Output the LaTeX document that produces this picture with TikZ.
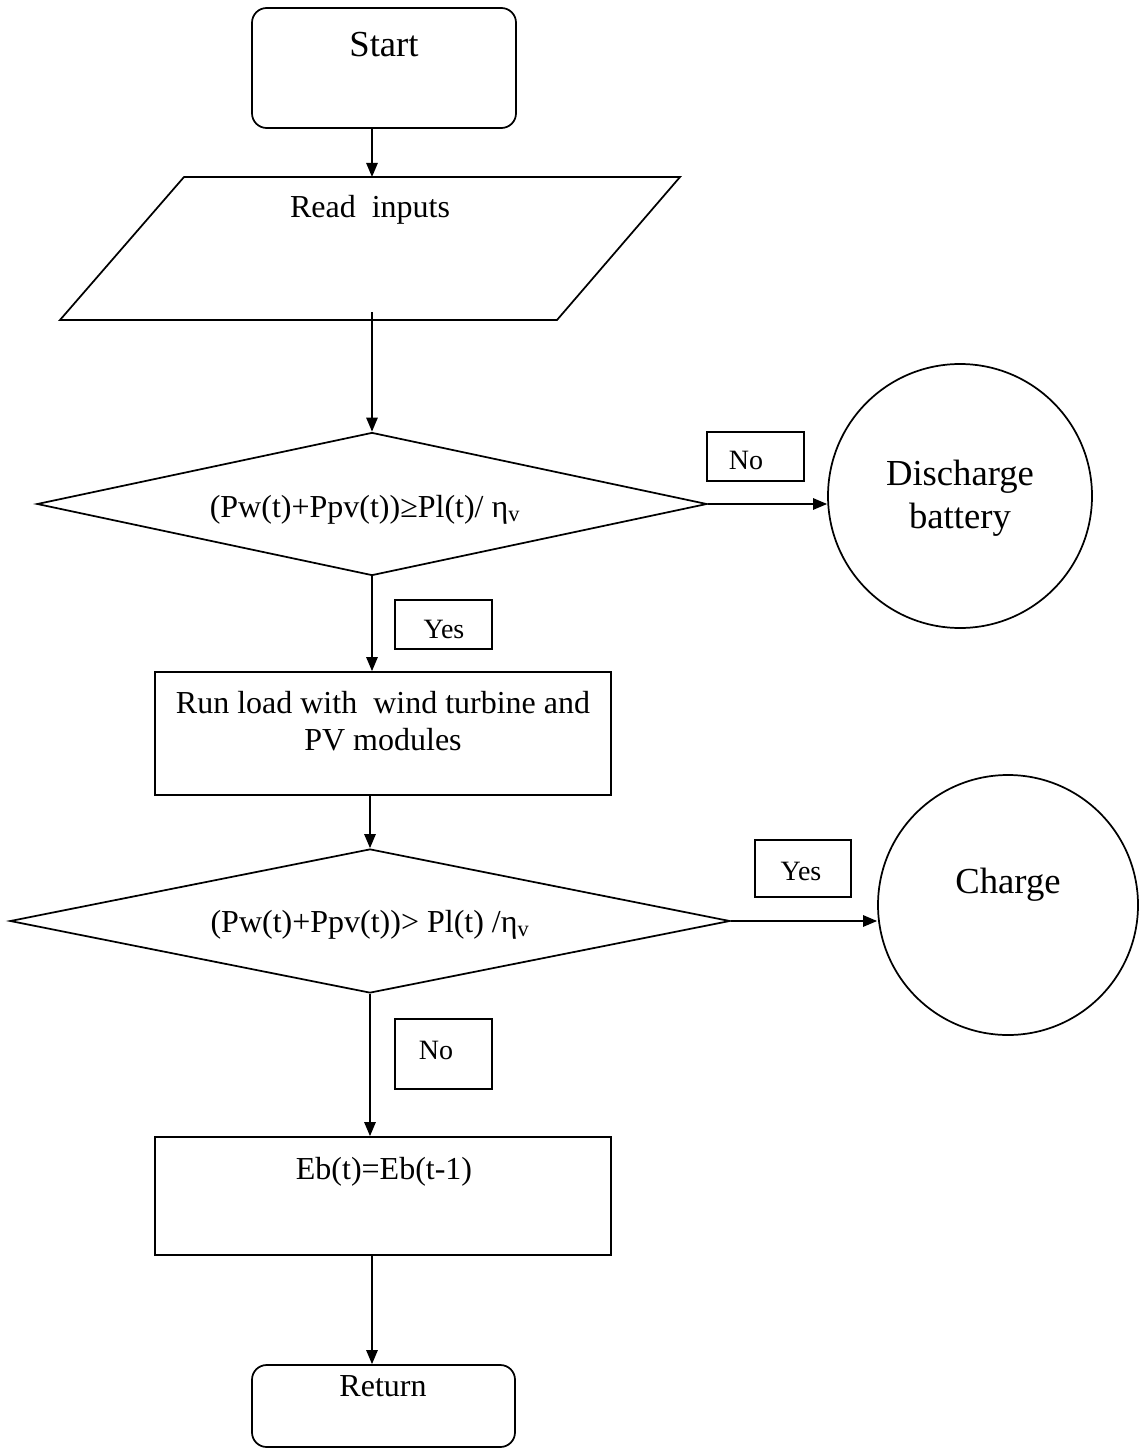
\documentclass[tikz,border=0pt]{standalone}
\usepackage{fontspec}
\setmainfont{Liberation Serif}
\usetikzlibrary{arrows.meta,shapes.geometric}
\begin{document}
\begin{tikzpicture}[x=0.75pt,y=-0.75pt,
  line width=1.3pt,
  conn/.style={-{Triangle[length=10.5pt,width=8.5pt]}},
  boxshape/.style={draw,rectangle,inner sep=0pt},
  roundshape/.style={draw,rectangle,rounded corners=11pt,inner sep=0pt},
  decshape/.style={draw,diamond,inner sep=0pt},
  termcircle/.style={draw,circle,inner sep=0pt},
  lblbox/.style={draw,rectangle,inner sep=0pt,line width=1pt,minimum width=72.75pt},
  txt/.style={anchor=base,inner sep=0pt,font=\fontsize{24}{28}\selectfont},
  bigtxt/.style={anchor=base,inner sep=0pt,font=\fontsize{27.5}{32}\selectfont},
  lbltxt/.style={anchor=base,inner sep=0pt,font=\fontsize{21}{25}\selectfont}]
\useasboundingbox (0,0) rectangle (1143,1448);

% shapes
\node[roundshape,minimum width=198pt,minimum height=90pt] (start) at (384,68) {};
\coordinate (pbl) at (60,320);
\coordinate (ptl) at (184,177);
\coordinate (ptr) at (680,177);
\coordinate (pbr) at (557,320);
\draw (pbl) -- (ptl) -- (ptr) -- (pbr) -- cycle;
\coordinate (ptop) at (372,177);
\coordinate (pbot) at (372,312);
\node[decshape,minimum width=502.5pt,minimum height=107.25pt] (d1) at (372,504) {};
\node[lblbox,minimum height=36.75pt] (no1) at (755.5,456.5) {};
\node[termcircle,minimum size=198pt] (c1) at (960,496) {};
\node[lblbox,minimum height=36.75pt] (yes1) at (443.5,624.5) {};
\node[boxshape,minimum width=342pt,minimum height=92.25pt] (r2) at (383,733.5) {};
\node[decshape,minimum width=540pt,minimum height=108pt] (d2) at (370,921) {};
\node[lblbox,minimum width=72pt,minimum height=42.75pt] (yes2) at (803,868.5) {};
\node[termcircle,minimum size=195pt] (c2) at (1008,905) {};
\node[lblbox,minimum height=52.5pt] (no2) at (443.5,1054) {};
\node[boxshape,minimum width=342pt,minimum height=88.5pt] (r3) at (383,1196) {};
\node[roundshape,minimum width=197.25pt,minimum height=61.5pt] (ret) at (383.5,1406) {};

% texts
\node[bigtxt] (tstart) at (384,57) {Start};
\node[txt] (tread) at (370,218) {Read\ \ inputs};
\node[txt] (td1) at (365,517) {(Pw(t)+Ppv(t))≥Pl(t)/ η\textsubscript{v}};
\node[lbltxt] (tno1) at (746,469) {No};
\node[bigtxt] (tdis) at (960,485) {Discharge};
\node[bigtxt] (tbat) at (960,528) {battery};
\node[lbltxt] (tyes1) at (444,638) {Yes};
\node[txt] (tr2a) at (383,713) {Run load with\ \ wind turbine and};
\node[txt] (tr2b) at (383,750) {PV modules};
\node[txt] (td2) at (370,932) {(Pw(t)+Ppv(t))> Pl(t) /η\textsubscript{v}};
\node[lbltxt] (tyes2) at (801,880) {Yes};
\node[bigtxt] (tchg) at (1008,893) {Charge};
\node[lbltxt] (tno2) at (436,1059) {No};
\node[txt] (tr3) at (384,1179) {Eb(t)=Eb(t-1)};
\node[txt] (tret) at (383,1396) {Return};

% connectors
\draw[conn] (start.south -| ptop) -- (ptop);
\draw[conn] (pbot) -- (d1.north);
\draw[conn] (d1.east) -- (d1.east -| c1.west);
\draw[conn] (d1.south) -- (d1.south |- r2.north);
\draw[conn] (d2.north |- r2.south) -- (d2.north);
\draw[conn] (d2.east) -- (d2.east -| c2.west);
\draw[conn] (d2.south) -- (d2.south |- r3.north);
\draw[conn] (r3.south -| ptop) -- (ret.north -| ptop);
\end{tikzpicture}
\end{document}
